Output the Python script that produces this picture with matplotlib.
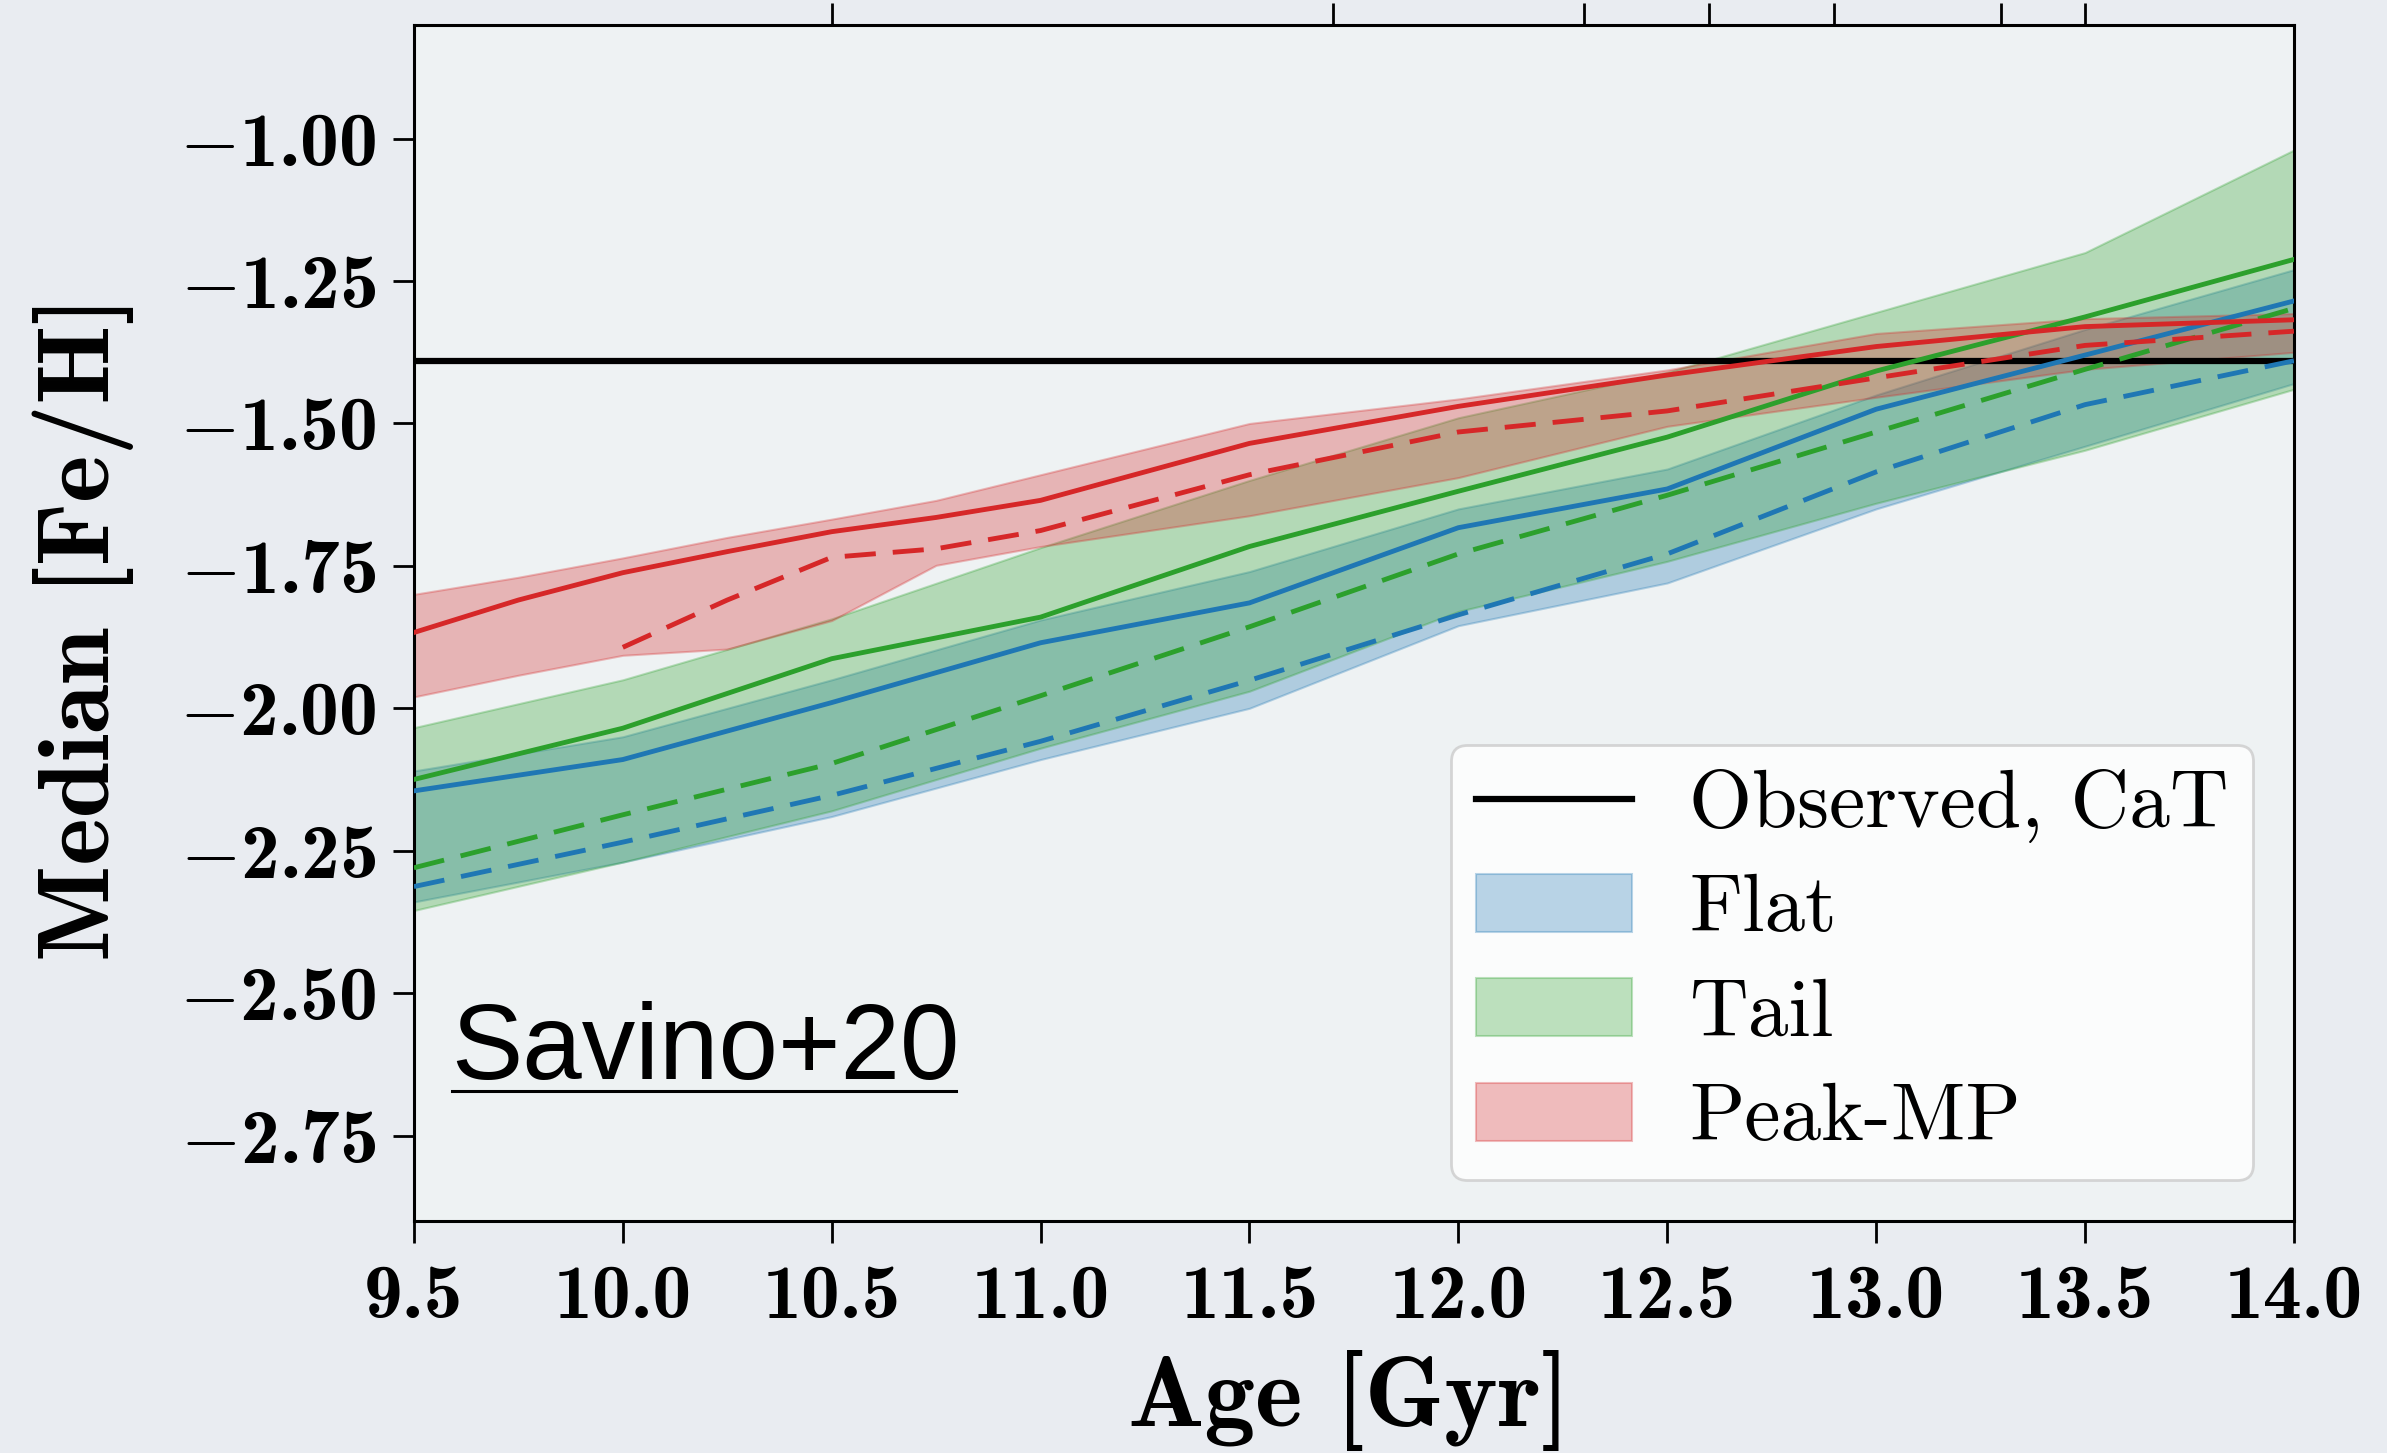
import matplotlib
matplotlib.use("Agg")
import matplotlib.pyplot as plt
import numpy as np
from matplotlib.ticker import FuncFormatter

plt.rcParams['mathtext.fontset'] = 'cm'

# ages (Gyr)
age = [9.5, 10.0, 10.5, 11.0, 11.5, 12.0, 12.5, 13.0, 13.5, 14.0]
red_age = [9.5, 9.75, 10.0, 10.25, 10.5, 10.75, 11.0, 11.5, 12.0, 12.5, 13.0, 13.5, 14.0]

# Flat
flat_solid = [-2.145, -2.09, -1.99, -1.885, -1.815, -1.683, -1.615, -1.475, -1.38, -1.285]
flat_dashed = [-2.313, -2.235, -2.153, -2.058, -1.951, -1.836, -1.729, -1.585, -1.467, -1.39]
flat_hi = [-2.11, -2.05, -1.95, -1.845, -1.76, -1.65, -1.58, -1.45, -1.335, -1.23]
flat_lo = [-2.34, -2.27, -2.19, -2.09, -2.0, -1.855, -1.78, -1.65, -1.54, -1.43]

# Tail
tail_solid = [-2.125, -2.035, -1.913, -1.84, -1.716, -1.619, -1.524, -1.408, -1.313, -1.212]
tail_dashed = [-2.28, -2.187, -2.097, -1.978, -1.857, -1.729, -1.626, -1.515, -1.405, -1.298]
tail_hi = [-2.034, -1.95, -1.843, -1.718, -1.60, -1.49, -1.41, -1.305, -1.20, -1.02]
tail_lo = [-2.355, -2.27, -2.18, -2.07, -1.97, -1.83, -1.742, -1.64, -1.547, -1.44]

# Peak-MP
peak_solid = [-1.867, -1.81, -1.762, -1.725, -1.69, -1.665, -1.635, -1.535, -1.47, -1.415, -1.365, -1.33, -1.318]
peak_dashed = [np.nan, np.nan, -1.893, -1.81, -1.735, -1.72, -1.688, -1.59, -1.515, -1.478, -1.42, -1.363, -1.338]
peak_hi = [-1.80, -1.77, -1.736, -1.70, -1.668, -1.635, -1.59, -1.50, -1.457, -1.406, -1.342, -1.316, -1.307]
peak_lo = [-1.98, -1.942, -1.907, -1.896, -1.846, -1.749, -1.716, -1.662, -1.595, -1.505, -1.454, -1.405, -1.375]

observed_cat = -1.39
upper_panel_ticks = [10.5, 11.7, 12.3, 12.6, 12.9, 13.3, 13.5]

fig = plt.figure(figsize=(23.87, 14.53), dpi=100, facecolor='#e9ecf1')
ax = fig.add_axes([0.1734, 0.1597, 0.7876, 0.8233])
ax.set_facecolor('#eef2f3')

blue, green, red = '#1f77b4', '#2ca02c', '#d62728'
dash = (6.4, 3.5)
lw = 3.5

f1 = ax.fill_between(age, flat_lo, flat_hi, color=blue, alpha=0.3, lw=1.5, label='Flat', zorder=1)
f2 = ax.fill_between(age, tail_lo, tail_hi, color=green, alpha=0.3, lw=1.5, label='Tail', zorder=1)
f3 = ax.fill_between(red_age, peak_lo, peak_hi, color=red, alpha=0.3, lw=1.5, label='Peak-MP', zorder=1)

obs = ax.axhline(observed_cat, color='black', lw=4.5, label='Observed, CaT', zorder=2)

ax.plot(age, flat_solid, color=blue, lw=lw, zorder=3)
ax.plot(age, flat_dashed, color=blue, lw=lw, dashes=dash, zorder=3)
ax.plot(age, tail_solid, color=green, lw=lw, zorder=3)
ax.plot(age, tail_dashed, color=green, lw=lw, dashes=dash, zorder=3)
ax.plot(red_age, peak_solid, color=red, lw=lw, zorder=3)
ax.plot(red_age, peak_dashed, color=red, lw=lw, dashes=dash, zorder=3)

ax.set_xlim(9.5, 14.0)
ax.set_ylim(-2.9, -0.8)
ax.set_xticks(np.arange(9.5, 14.01, 0.5))
ax.set_yticks([-2.75, -2.5, -2.25, -2.0, -1.75, -1.5, -1.25, -1.0])
ax.xaxis.set_major_formatter(FuncFormatter(lambda v, p: '%.1f' % v))
ax.yaxis.set_major_formatter(FuncFormatter(lambda v, p: ('$-$%.2f' % abs(v)) if v < 0 else '%.2f' % v))
ax.tick_params(axis='x', direction='out', length=16, width=2, labelsize=56, pad=15,
               labelfontfamily='cmb10')
ax.tick_params(axis='y', direction='out', length=15, width=2, labelsize=56, pad=12,
               labelfontfamily='cmb10')
for s in ax.spines.values():
    s.set_linewidth(2.2)

sec = ax.secondary_xaxis('top')
sec.set_xticks(upper_panel_ticks)
sec.set_xticklabels([])
sec.tick_params(direction='out', length=16, width=2)

ax.set_xlabel('Age [Gyr]', fontfamily='cmb10', fontsize=73, va='top')
ax.set_ylabel('Median [Fe/H]', fontfamily='cmb10', fontsize=73)
ax.xaxis.set_label_coords(0.497, -0.108)
ax.yaxis.set_label_coords(-0.149, 0.495)

ax.text(0.02, 0.119, 'Savino+20', transform=ax.transAxes, fontfamily='Liberation Sans',
        fontsize=77, color='black', va='baseline', ha='left')
ax.plot([0.0202, 0.2885], [0.1085, 0.1085], transform=ax.transAxes,
        color='black', lw=2.2, clip_on=False)

leg = ax.legend(handles=[obs, f1, f2, f3], loc='lower right', prop={'family': 'cmr10', 'size': 58.5},
                handlelength=1.93, handleheight=0.72, handletextpad=0.7, labelspacing=0.38,
                fancybox=True, framealpha=0.8, edgecolor='#cccccc', borderpad=0.3)
leg.get_frame().set_linewidth(2)

fig.savefig('out.png', dpi=100, facecolor=fig.get_facecolor())
